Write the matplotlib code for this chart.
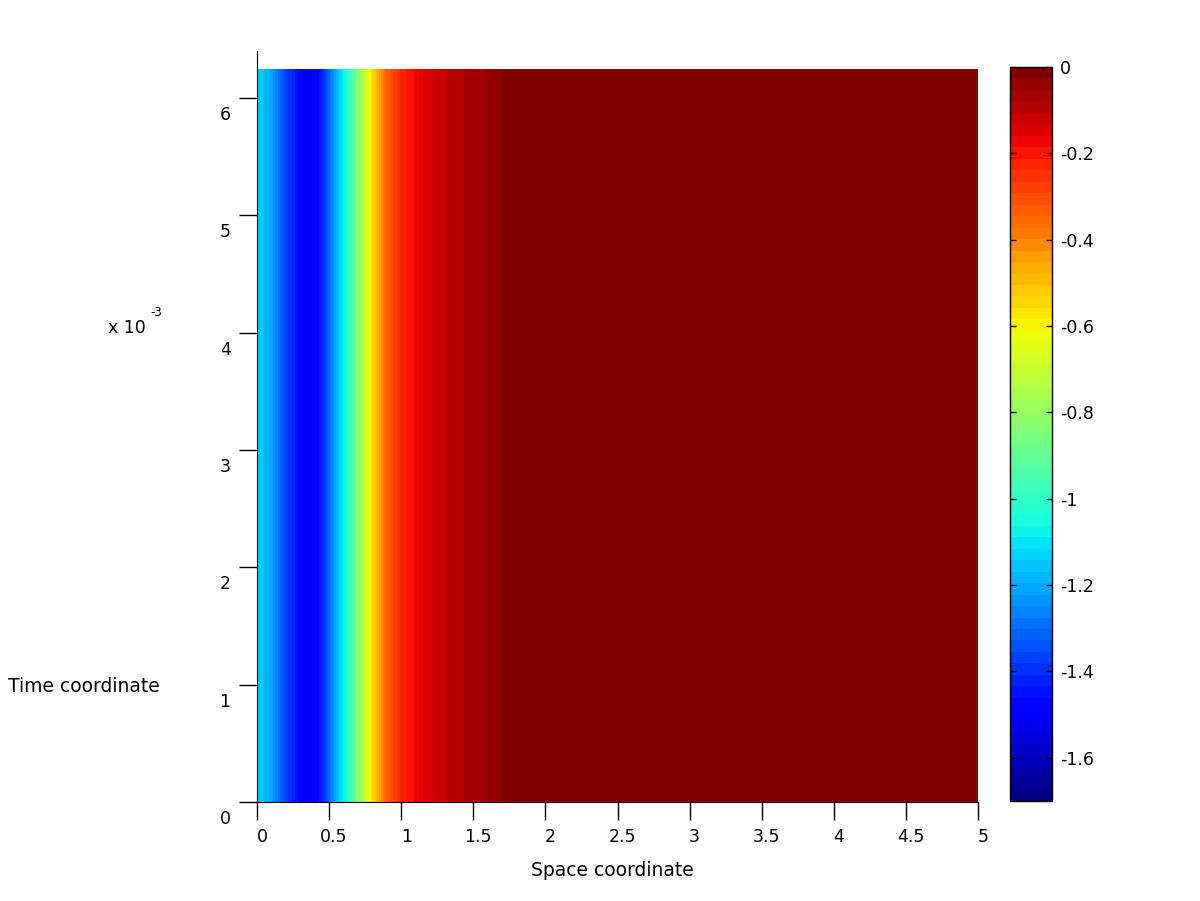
"""MATLAB-style top view of a space-time surface (u(x, t)) with a jet colorbar."""

import numpy as np
import matplotlib
matplotlib.use("Agg")
import matplotlib.pyplot as plt
from matplotlib.colors import ListedColormap, Normalize
from matplotlib.cm import ScalarMappable
from matplotlib.transforms import ScaledTranslation

plt.rcParams["font.family"] = ["DejaVu Sans"]
plt.rcParams["axes.unicode_minus"] = False

# profile (constant along time)
space = [0.0, 0.1, 0.2, 0.3, 0.35, 0.4, 0.45, 0.5, 0.55, 0.6, 0.65, 0.7, 0.75,
         0.8, 0.85, 0.9, 1.0, 1.1, 1.2, 1.3, 1.4, 1.5, 1.6, 1.69, 1.7, 5.0]
u_profile = [-1.13, -1.21, -1.36, -1.48, -1.52, -1.50, -1.43, -1.31, -1.19, -1.08,
             -0.96, -0.84, -0.70, -0.56, -0.44, -0.34, -0.23, -0.18, -0.14, -0.11,
             -0.085, -0.065, -0.05, -0.04, 0.0, 0.0]
time = [0.0, 6.25e-3]

x_ticks = [0, 0.5, 1, 1.5, 2, 2.5, 3, 3.5, 4, 4.5, 5]
x_ticklabels = ["0", "0.5", "1", "1.5", "2", "2.5", "3", "3.5", "4", "4.5", "5"]
y_ticks = [0, 1e-3, 2e-3, 3e-3, 4e-3, 5e-3, 6e-3]
y_ticklabels = ["0", "1", "2", "3", "4", "5", "6"]
cbar_ticks = [0, -0.2, -0.4, -0.6, -0.8, -1.0, -1.2, -1.4, -1.6]
cbar_ticklabels = ["0", "-0.2", "-0.4", "-0.6", "-0.8", "-1", "-1.2", "-1.4", "-1.6"]
c_min, c_max = -1.7, 0.0
FS = 12.5      # tick labels
FS_LAB = 13.5  # axis labels

W, H = 1200, 901
fig = plt.figure(figsize=(W / 100, H / 100), dpi=100)

ax = fig.add_axes([257 / W, 1 - 802 / H, 721 / W, 751 / H])
cax = fig.add_axes([1010 / W, 1 - 801 / H, 42 / W, 734 / H])

jet64 = ListedColormap(plt.get_cmap("jet")(np.linspace(0, 1, 64)))
levels = np.linspace(c_min, c_max, 65)

X, T = np.meshgrid(space, time)
U = np.tile(u_profile, (len(time), 1))
ax.contourf(X, T, U, levels=levels, cmap=jet64, vmin=c_min, vmax=c_max,
            antialiased=False)
ax.plot([space[0], space[0]], [time[0], time[-1]], color="black", ls=":", lw=1.2)

ax.set_xlim(0, 5)
ax.set_ylim(0, 6.4e-3)
ax.spines["top"].set_visible(False)
ax.spines["right"].set_visible(False)
ax.set_xticks(x_ticks)
ax.set_xticklabels(x_ticklabels)
ax.set_yticks(y_ticks)
ax.set_yticklabels(y_ticklabels)
ax.tick_params(axis="both", direction="out", length=13, width=1, labelsize=FS, pad=6)

for lab in ax.get_yticklabels():
    lab.set_transform(lab.get_transform() + ScaledTranslation(0, -0.15, fig.dpi_scale_trans))
for lab in ax.get_xticklabels():
    lab.set_transform(lab.get_transform() + ScaledTranslation(0.05, 0, fig.dpi_scale_trans))

fig.text(612 / W, 1 - 870 / H, "Space coordinate", ha="center", va="center", fontsize=FS_LAB)
fig.text(8 / W, 1 - 687 / H, "Time coordinate", ha="left", va="center", fontsize=FS_LAB)
fig.text(108 / W, 1 - 328 / H, "x 10", ha="left", va="center", fontsize=FS)
fig.text(150 / W, 1 - 312 / H, "-3", ha="left", va="center", fontsize=8.5)

sm = ScalarMappable(norm=Normalize(c_min, c_max), cmap=jet64)
cbar = fig.colorbar(sm, cax=cax)
cbar.set_ticks(cbar_ticks)
cbar.set_ticklabels(cbar_ticklabels)
cbar.outline.set_linewidth(1)
cax.tick_params(direction="in", length=4, width=1, left=True, right=True,
                labelsize=FS, pad=6)

fig.savefig("out.png", dpi=100)
